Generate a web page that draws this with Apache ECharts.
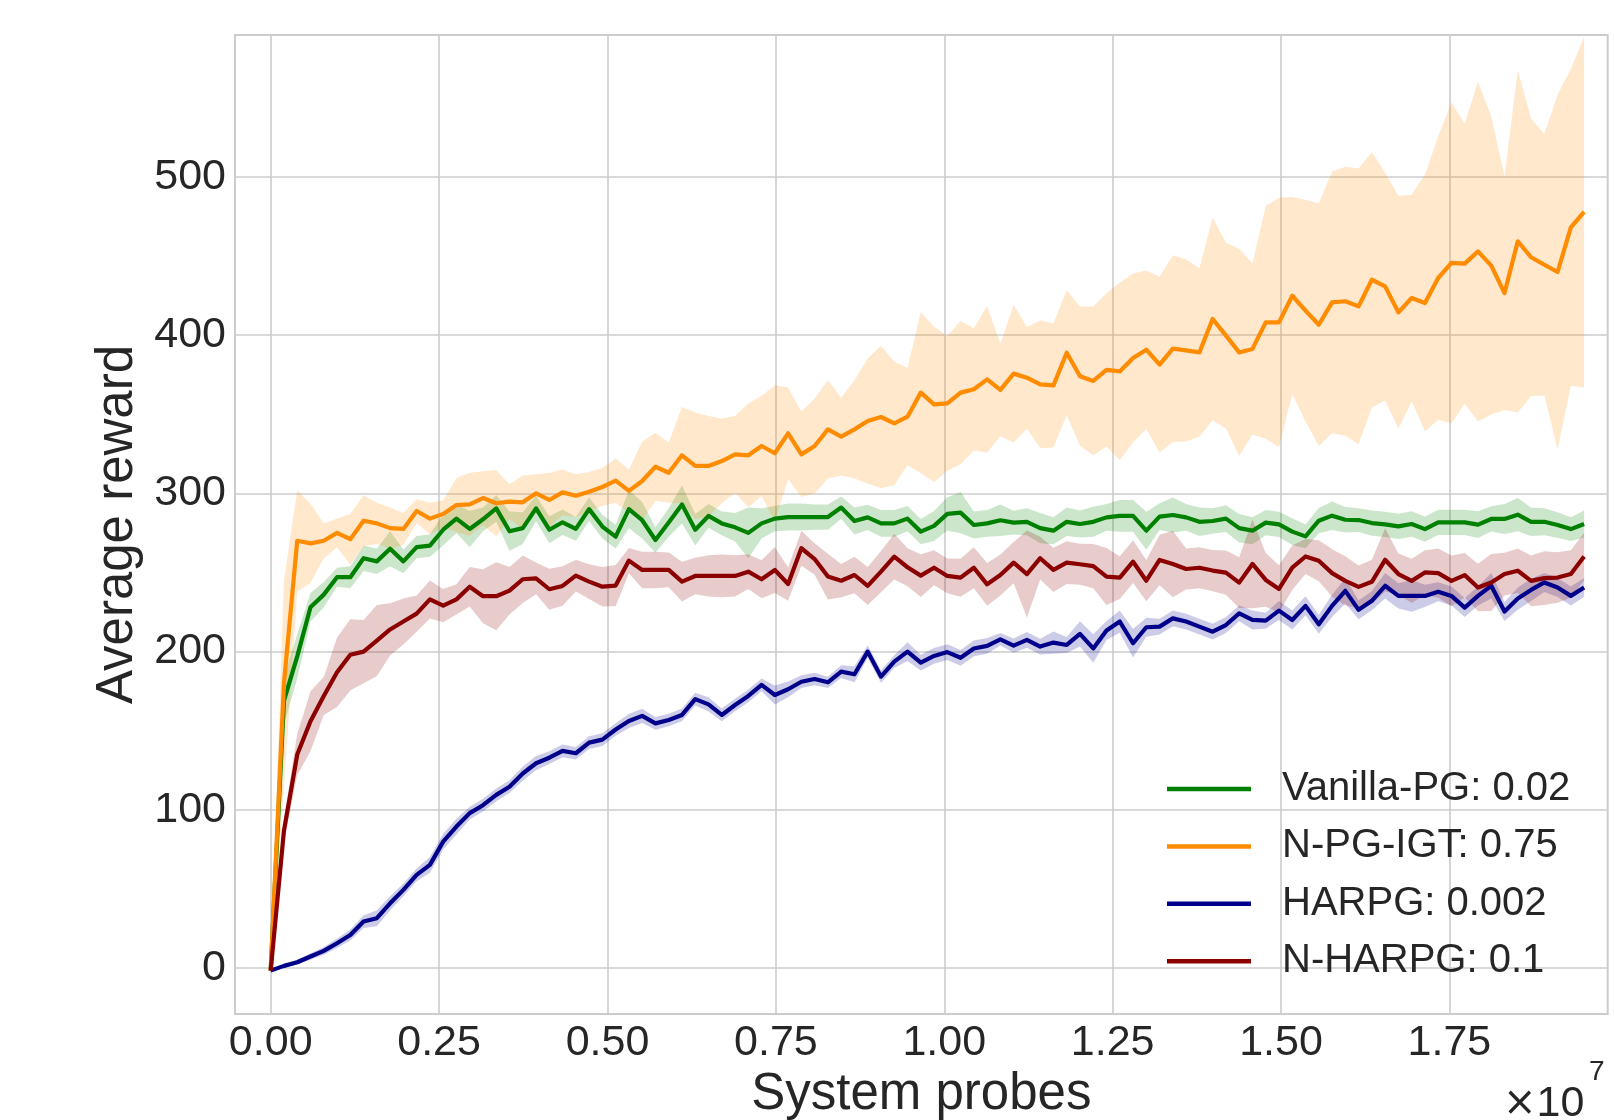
<!DOCTYPE html>
<html>
<head>
<meta charset="utf-8">
<script src="https://cdn.jsdelivr.net/npm/echarts@6/dist/echarts.min.js"></script>
<style>
html,body{margin:0;padding:0;background:#fff;}
#chart{width:1614px;height:1120px;}
</style>
</head>
<body>
<div id="chart"></div>
<script>
// ---------------- data ----------------
const N_POINTS = 100;            // evaluation checkpoints
const LAST_PROBE = 1.95e7;       // system probes at last checkpoint
const seriesNames = ['Vanilla-PG: 0.02', 'N-PG-IGT: 0.75', 'HARPG: 0.002', 'N-HARPG: 0.1'];
const xTicks = [0, 2.5e6, 5e6, 7.5e6, 1e7, 1.25e7, 1.5e7, 1.75e7];
const yTicks = [0, 100, 200, 300, 400, 500];

const vanillaMean = [
 -1.5,169,197,228,236,247,247,259,257,265,
 257,266,267,277,284,277.5,283.6,290.5,276,278,
 290.5,277,281.7,277.5,290,279,272.6,290,283,270.5,
 281.5,293,277,285.7,281,278.5,275,281,284,285,
 285,285,285,291,282.5,284.8,281,281,284,275.8,
 279.4,287,287.8,280,281,283,281.5,282,278,276.4,
 282,280.6,282,284.8,285.7,285.7,276.4,285.3,286.3,284.8,
 282,282.5,284,278,276.4,281.5,280.4,275.8,272.8,282.7,
 285.9,283.3,283.1,281.2,280.4,279.1,280.6,277.4,281.6,281.6,
 281.6,280.2,283.8,283.8,286.5,282,282,280,277.4,280.6];
const vanillaStd = [
 0,15,14,9,8,6,7,8,8,11,
 7.5,7,7,10,9,11.5,7.5,8.5,12.5,10,
 8,8.5,8,7.5,7.5,7.5,7.5,12,11.5,8,
 9,12,10,7.5,7.5,9,16,9.5,8,8.5,
 8.5,8,8,7,8.5,8,8.5,8.5,8,8,
 9.5,10.5,13,8.5,8.5,10,7.5,8.5,9.5,8.5,
 9,8.5,9.5,8.5,10,10,12,8.5,11,8.5,
 9,8,8.5,9,8.5,8,8,8.5,7.5,8,
 9,8,7.5,8,8,8,8,8,8,8,
 8,8.5,8,9.5,10.5,9,8.5,8,7.5,8.5];

const npgMean = [
 -1.5,180,270,268.4,270,275,271,282.7,281,278,
 277.5,288.8,284,287,292.6,293,297,293.7,294.7,294.3,
 300,295.8,300.6,298.5,301,304,308,301.5,307.8,316.8,
 313,324,317.3,317.3,320.4,324.6,324,329.9,325.3,337.9,
 324.6,329.9,340.4,335.8,340.4,345.7,348.2,344.2,348.4,363.6,
 356.2,356.8,363.6,365.7,372,365.3,375.6,373,368.8,368.2,
 388.8,374,371,378,377,385.5,390.7,381.3,391.4,390.3,
 389,410.1,399.6,389,391.2,408,408,424.8,415.4,406.5,
 420.6,421.3,418.1,434.9,430.7,414.3,423.4,420.2,436,445.5,
 445.1,452.8,443.8,426.5,459.2,449.1,444.4,439.8,468,477.7];
const npgStd = [
 0,65,32,25,11,9,16,16,13,13,
 10,7.5,10,8.5,17,20,17,21,11,17,
 12,17,14.5,13.5,12.5,12,14,13.5,25,21.5,
 19,30.5,33.7,31.5,26.8,24.2,32.8,31.6,42.9,29,
 27,30,31,24.5,31,39.5,45,39,30.7,51,
 49,42.6,45.2,38.6,46.3,29.2,43.5,32,40.3,39.3,
 39.5,44,47,48.4,56,53.4,50,55.5,59,57.5,
 53.2,64,58.6,65.5,54,73.5,78.7,62.3,70,76.6,
 82.6,85,87.1,80.7,72,73.5,65.3,81,89.5,101.3,
 88.5,107.4,94,73.8,108.2,87.6,82.6,112,100,110.9];

const harpgMean = [
 -1.5,1.5,3.8,7.4,11,15.8,21,29.5,31.6,41,
 49.5,59,65.3,80,89.5,98,103,109.5,114.7,123,
 129.5,133,137.3,135.8,142.5,144.4,150.8,156.2,159.4,154.7,
 156.8,160,170,166.7,160,166.3,172,179,172.6,176.2,
 181,182.7,180.6,187.4,185.7,200,184.2,193.7,200,193,
 197.3,199.7,196.1,202,203.6,207.8,203.8,207.4,203.2,205.7,
 204.2,211.2,202,213.3,219,205.3,215.4,215.8,221,219,
 215.8,212.6,216.8,224.2,220,219.6,225.9,220,228.9,217.3,
 228.9,238.4,226.4,232.1,241.6,235.2,235.2,235.2,237.8,235.2,
 227.8,235.2,241.6,225.3,233.5,239,243.7,240.5,235.2,240.5];
const harpgStd = [
 0,1,1.5,2,2.5,3,3.5,4,5,4.5,
 4,4,5,5,5,4,4,4,4,4.5,
 4.5,4,4,4,4,4,4,4.5,4.5,4,
 4,4,4,4.5,4,4,4,4,6,5,
 4,4,3.5,4,5,4,4,4,6,5,
 5,5,5,5,5,4,4.5,5,5,7,
 5,8,9,6,7,9,6,5,5,5,
 5,5,5,5,6,5,6,6,6,6,
 7,8,6,6,8,8,10,7,6,6,
 6,6,8,6,7,7,6,6,6,6];

const nharpgMean = [
 -1.5,87,135,156,172,187,198,200,207,214,
 219,224,233,229,233,241,235,235,238.5,245.7,
 246.3,239.4,241.5,248,244.2,241,241.7,257.5,251.6,251.6,
 251.6,244.2,247.8,247.8,247.8,247.8,250.5,245.7,251.6,242.7,
 265.3,258.5,247.4,244.8,248.4,241.5,250.5,260,253.3,248,
 253,247.8,246.7,253,242.5,248.4,256.2,249,259,251.6,
 256.2,255.2,254,247.4,246.7,256.8,244.8,257.9,255.4,252.2,
 253,251.2,249.9,243.6,255.4,245.3,239.6,253,260.1,257.4,
 249.6,244.7,240.9,244.1,258,249,244.7,250,249.6,244.7,
 248.3,240.5,243.7,249,251.1,244.7,246.4,246.8,249,260.1];
const nharpgStd = [
 0,7.5,13,19,12,22,22.5,20,22.5,16.5,
 14.5,11.5,12,10.5,9.5,12.5,17,21.5,15,15,
 10,13,12.5,10,11,12.5,13,8,11.5,11.5,
 11,12.5,11.5,13,13.5,13,11,12,14.5,10.5,
 11,10,14.5,10.5,11.5,12,13,14.5,12,13.5,
 11,11,12,13,13.5,13,13,27.5,13.5,14,
 13.5,13,14,18,13.5,13.5,13,16,21,13,
 13,13,14,16,28,17,15,14,11,13,
 15,15.5,13.5,14,20,13,14,14,15.5,16,
 14,15,18,13.5,14,16,17,16,15,15];

// x positions of checkpoints (evenly spaced up to LAST_PROBE)
const probes = [];
for (let i = 0; i < N_POINTS; i++) probes.push(i * LAST_PROBE / (N_POINTS - 1));

// ---------------- style ----------------
const FONT = '"Liberation Sans", Arial, Helvetica, sans-serif';
const TXT = '#262626';
const GRIDC = '#cccccc';
const colors = ['#008000', '#ff8c00', '#00008b', '#8b0000'];
const bandColors = ['rgba(0,128,0,0.2)', 'rgba(255,140,0,0.2)', 'rgba(0,0,139,0.2)', 'rgba(139,0,0,0.2)'];
const means = [vanillaMean, npgMean, harpgMean, nharpgMean];
const stds = [vanillaStd, npgStd, harpgStd, nharpgStd];

function bandSeries(k) {
  const m = means[k], s = stds[k];
  const lo = m.map((v, i) => v - s[i]);
  const hi = m.map((v, i) => v + s[i]);
  return {
    type: 'custom',
    name: 'band' + k,
    z: 1 + k * 0.1,
    silent: true,
    clip: true,
    data: probes.map((x, i) => [x, lo[i], hi[i]]),
    encode: { x: 0, y: [1, 2] },
    renderItem(params, api) {
      if (params.dataIndex !== 0) return null;
      const pts = [];
      for (let i = 0; i < probes.length; i++) pts.push(api.coord([probes[i], hi[i]]));
      for (let i = probes.length - 1; i >= 0; i--) pts.push(api.coord([probes[i], lo[i]]));
      return { type: 'polygon', shape: { points: pts }, style: { fill: bandColors[k], stroke: null } };
    }
  };
}
function lineSeries(k) {
  return {
    type: 'line',
    name: seriesNames[k],
    z: 3 + k,
    silent: true,
    showSymbol: false,
    symbol: 'none',
    data: probes.map((x, i) => [x, means[k][i]]),
    lineStyle: { color: colors[k], width: 4.2, join: 'round' },
    itemStyle: { color: colors[k] }
  };
}

const chart = echarts.init(document.getElementById('chart'), null, { renderer: 'canvas' });
chart.setOption({
  animation: false,
  backgroundColor: '#ffffff',
  grid: { left: 235, top: 35, right: 6.3, bottom: 106, show: true, borderColor: GRIDC, borderWidth: 2,
          backgroundColor: 'transparent', containLabel: false, outerBoundsMode: 'none' },
  xAxis: {
    type: 'value', min: -530000, max: 19850000,
    name: 'System probes', nameLocation: 'middle', nameGap: 50,
    nameTextStyle: { fontSize: 51, color: TXT, fontFamily: FONT },
    axisLine: { show: false },
    axisTick: { show: false, customValues: xTicks },
    axisLabel: { customValues: xTicks, fontSize: 43, color: TXT, fontFamily: FONT, margin: 8,
      formatter: v => (v / 1e7).toFixed(2) },
    splitLine: { show: true, lineStyle: { color: GRIDC, width: 1.6 } }
  },
  yAxis: {
    type: 'value', min: -28.9, max: 589.5,
    name: 'Average reward', nameLocation: 'middle', nameGap: 87, nameRotate: 90,
    nameTextStyle: { fontSize: 51, color: TXT, fontFamily: FONT },
    axisLine: { show: false },
    axisTick: { show: false, customValues: yTicks },
    axisLabel: { customValues: yTicks, fontSize: 43, color: TXT, fontFamily: FONT, margin: 9 },
    splitLine: { show: true, lineStyle: { color: GRIDC, width: 1.6 } }
  },
  legend: {
    orient: 'vertical', left: 1162, top: 764,
    icon: 'rect', itemWidth: 84, itemHeight: 4.5, itemGap: 17.4,
    data: seriesNames,
    textStyle: { fontSize: 40, color: TXT, fontFamily: FONT, lineHeight: 40, padding: [0, 0, 0, 26] },
    selectedMode: false
  },
  graphic: [
    { type: 'text', left: 1503, top: 1083,
      style: { text: '{m|×}{n|10}', fill: TXT,
        rich: { m: { fontSize: 40, fontFamily: '"DejaVu Sans", sans-serif', fill: TXT },
                n: { fontSize: 43, fontFamily: FONT, fill: TXT } } } },
    { type: 'text', left: 1589, top: 1058, style: { text: '7', font: '28px ' + FONT, fill: TXT } }
  ],
  series: [0, 1, 2, 3].map(bandSeries).concat([0, 1, 2, 3].map(lineSeries))
});
</script>
</body>
</html>
